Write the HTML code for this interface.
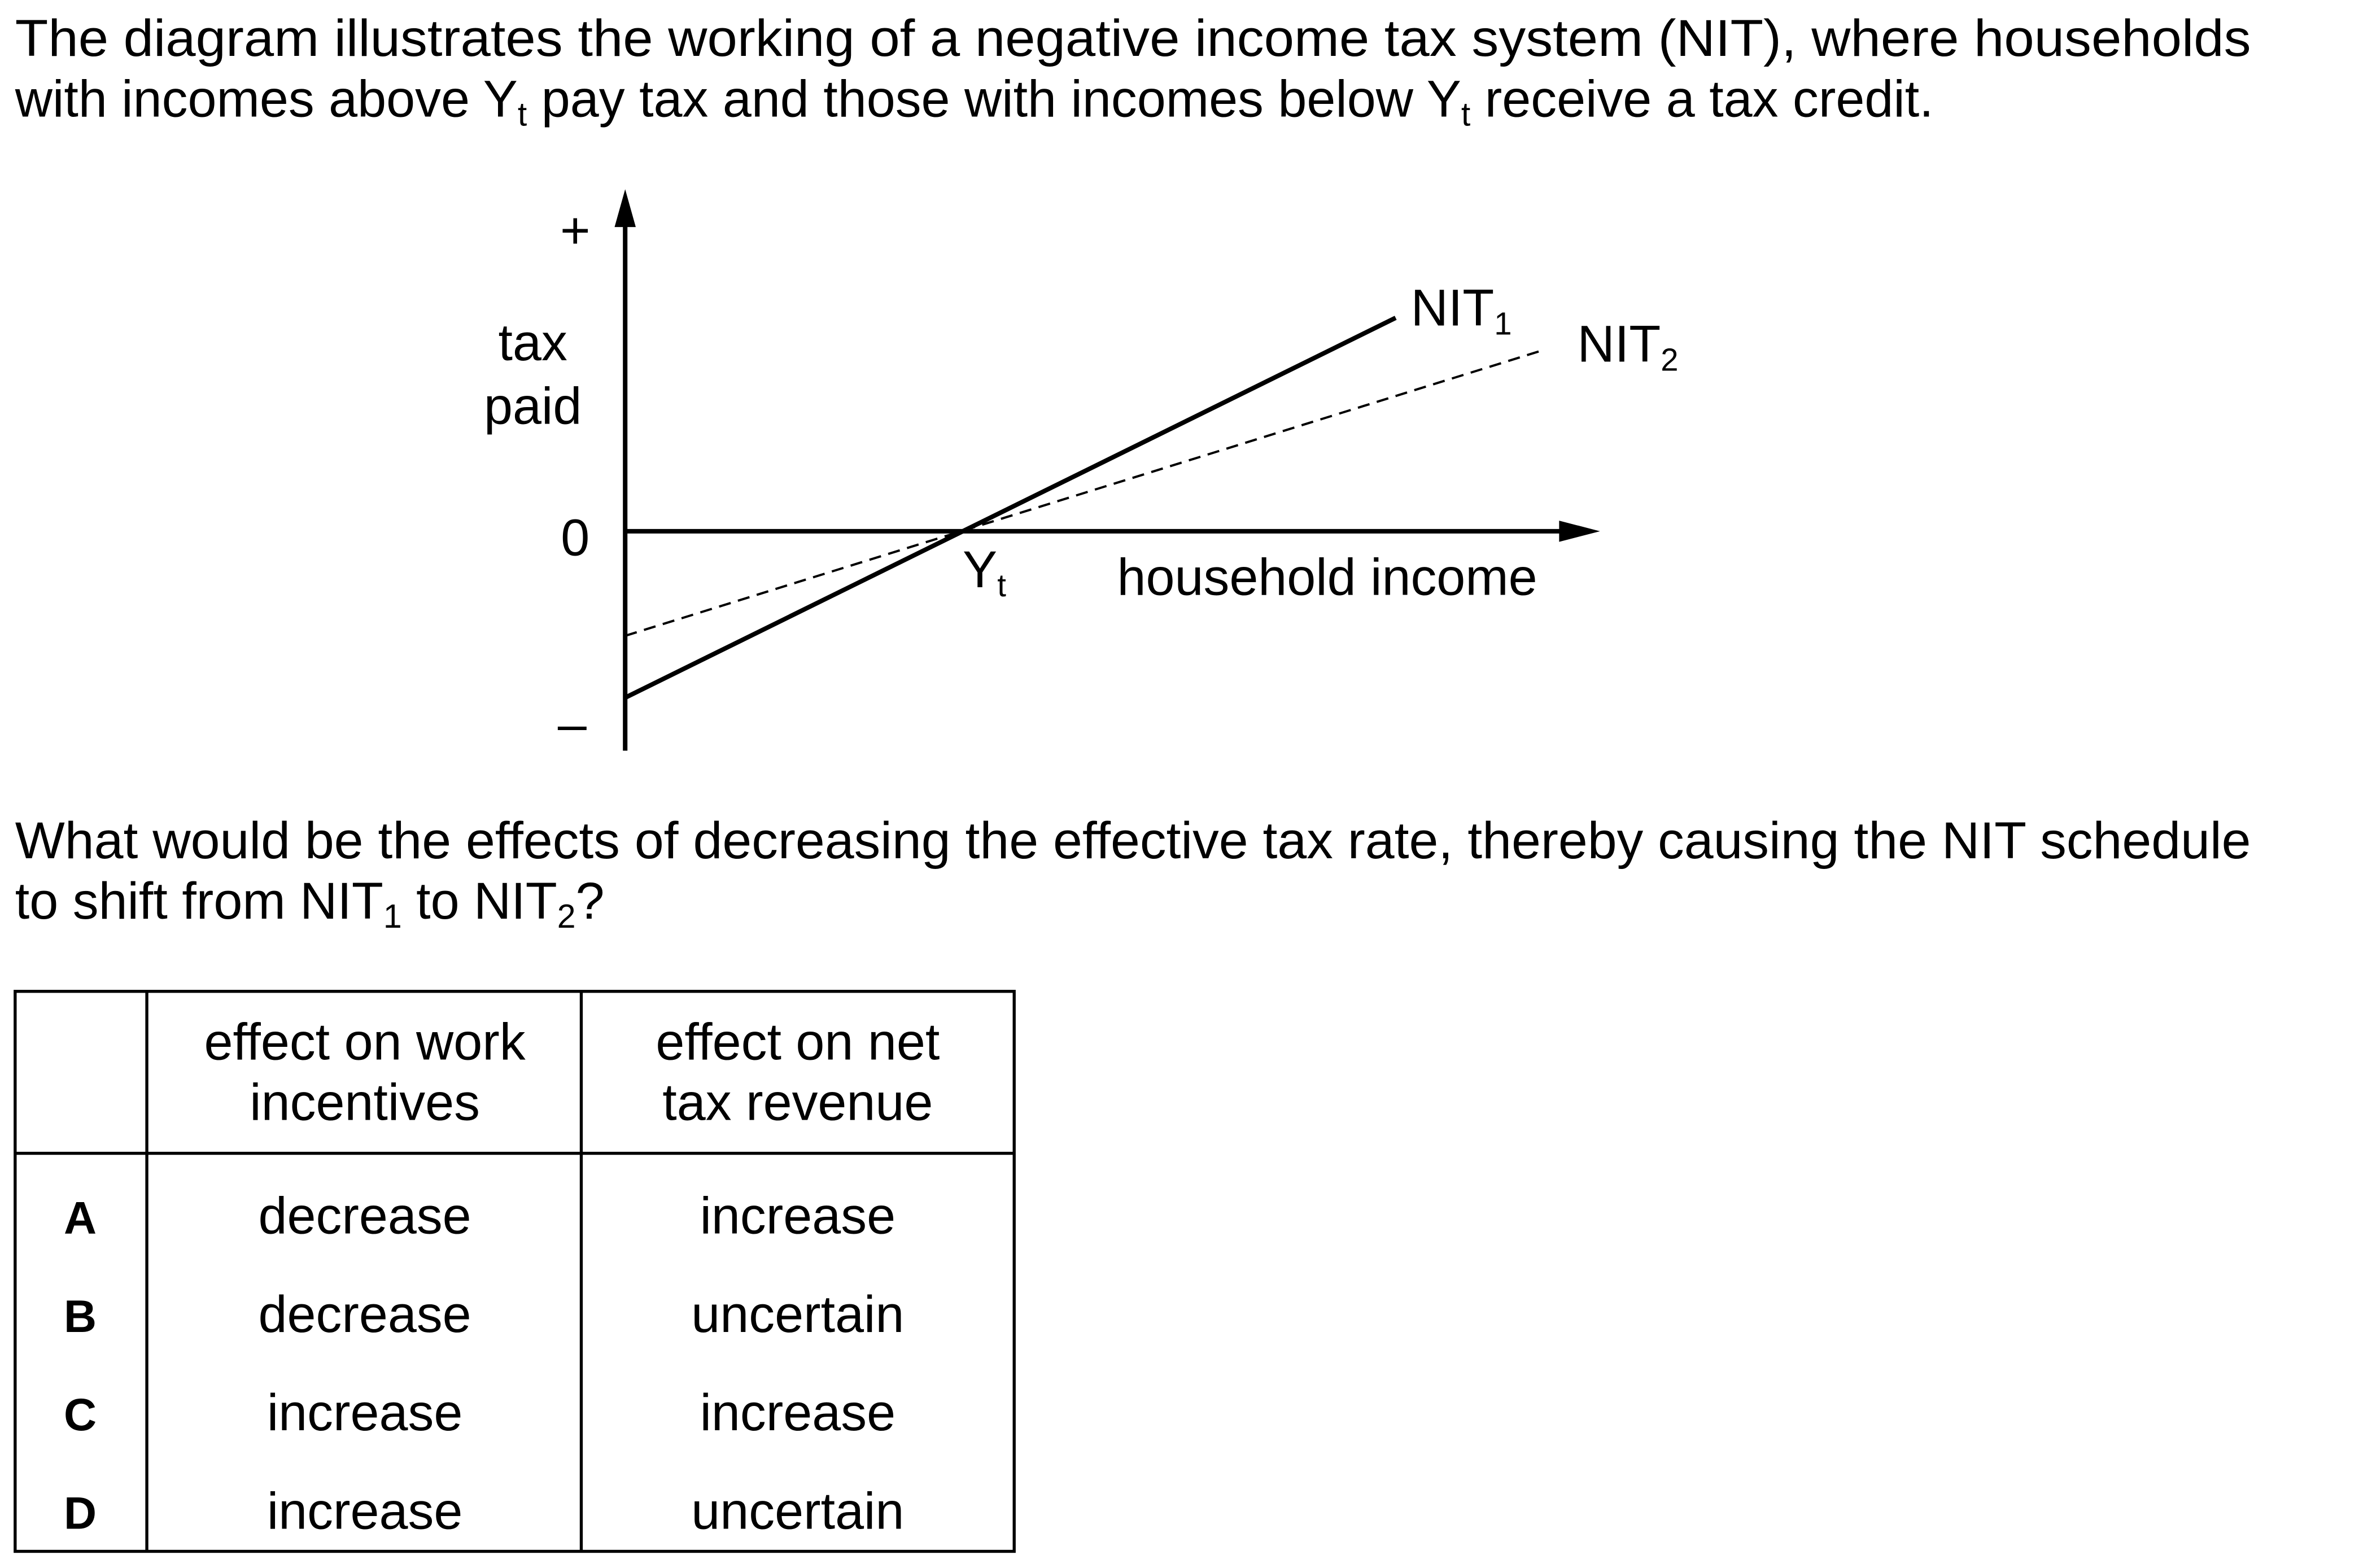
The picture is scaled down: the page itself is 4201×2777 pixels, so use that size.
<!DOCTYPE html>
<html><head><meta charset="utf-8"><style>
html,body{margin:0;padding:0;background:#fff}
svg{display:block}
text{font-family:"Liberation Sans",Arial,sans-serif;fill:#000}
</style></head><body>
<svg width="4201" height="2777" viewBox="0 0 1567 1036" preserveAspectRatio="none">
<g font-size="34.2">
<text x="10" y="37" textLength="1477" lengthAdjust="spacingAndGlyphs">The diagram illustrates the working of a negative income tax system (NIT), where households</text>
<text x="10" y="77">with incomes above Y<tspan font-size="22" dy="6">t</tspan><tspan dy="-6"> pay tax and those with incomes below Y</tspan><tspan font-size="22" dy="6">t</tspan><tspan dy="-6"> receive a tax credit.</tspan></text>
</g>
<g id="chart">
<polygon points="413,125 406,150 420,150" fill="#000"/>
<line x1="413" y1="140" x2="413" y2="496" stroke="#000" stroke-width="3"/>
<polygon points="1057,351 1030,344 1030,358" fill="#000"/>
<line x1="413" y1="351" x2="1040" y2="351" stroke="#000" stroke-width="3"/>
<g font-size="34.2">
<text x="380" y="164" text-anchor="middle">+</text>
<text x="352" y="238" text-anchor="middle">tax</text>
<text x="352" y="280" text-anchor="middle">paid</text>
<text x="380" y="367" text-anchor="middle">0</text>
<text x="378" y="490" text-anchor="middle">–</text>
<text x="636" y="388">Y<tspan font-size="21" dy="6">t</tspan></text>
<text x="738" y="393">household income</text>
<text x="932" y="215">NIT<tspan font-size="21" dy="6">1</tspan></text>
<text x="1042" y="239">NIT<tspan font-size="21" dy="6">2</tspan></text>
</g>
</g>
<g font-size="34.2">
<text x="10" y="567" textLength="1477" lengthAdjust="spacingAndGlyphs">What would be the effects of decreasing the effective tax rate, thereby causing the NIT schedule</text>
<text x="10" y="607">to shift from NIT<tspan font-size="22" dy="6">1</tspan><tspan dy="-6"> to NIT</tspan><tspan font-size="22" dy="6">2</tspan><tspan dy="-6">?</tspan></text>
</g>
<g stroke="#000" stroke-width="2" fill="none">
<rect x="10" y="655" width="660" height="370"/>
<line x1="97" y1="655" x2="97" y2="1025"/>
<line x1="384" y1="655" x2="384" y2="1025"/>
<line x1="10" y1="762" x2="670" y2="762"/>
</g>
<g font-size="34.2" text-anchor="middle">
<text x="241" y="700">effect on work</text>
<text x="241" y="740">incentives</text>
<text x="527" y="700">effect on net</text>
<text x="527" y="740">tax revenue</text>
<g font-weight="bold" font-size="30"><text x="53" y="815">A</text><text x="53" y="880">B</text><text x="53" y="945">C</text><text x="53" y="1010">D</text></g>
<text x="241" y="815">decrease</text><text x="527" y="815">increase</text>
<text x="241" y="880">decrease</text><text x="527" y="880">uncertain</text>
<text x="241" y="945">increase</text><text x="527" y="945">increase</text>
<text x="241" y="1010">increase</text><text x="527" y="1010">uncertain</text>
</g>
</svg>
<script>
const incomes = [0, 1];
const nit1Values = [-0.78, 1.0];
const nit2Values = [-0.49, 0.85];
const xScale = v => 413 + v * 509;
const yScale = v => 351 - v * 141;
const nit2X = v => 413 + v * 607;
const chart = document.getElementById('chart');
const NS = 'http://www.w3.org/2000/svg';
const l1 = document.createElementNS(NS, 'line');
l1.setAttribute('x1', xScale(incomes[0])); l1.setAttribute('y1', yScale(nit1Values[0]));
l1.setAttribute('x2', xScale(incomes[1])); l1.setAttribute('y2', yScale(nit1Values[1]));
l1.setAttribute('stroke', '#000'); l1.setAttribute('stroke-width', '3');


chart.appendChild(l1);
const l2 = document.createElementNS(NS, 'line');
l2.setAttribute('x1', nit2X(incomes[0])); l2.setAttribute('y1', yScale(nit2Values[0]));
l2.setAttribute('x2', nit2X(incomes[1])); l2.setAttribute('y2', yScale(nit2Values[1]));
l2.setAttribute('stroke', '#000'); l2.setAttribute('stroke-width', '1.5');
l2.setAttribute('stroke-dasharray', '8,5');


chart.appendChild(l2);
</script>
</body></html>
